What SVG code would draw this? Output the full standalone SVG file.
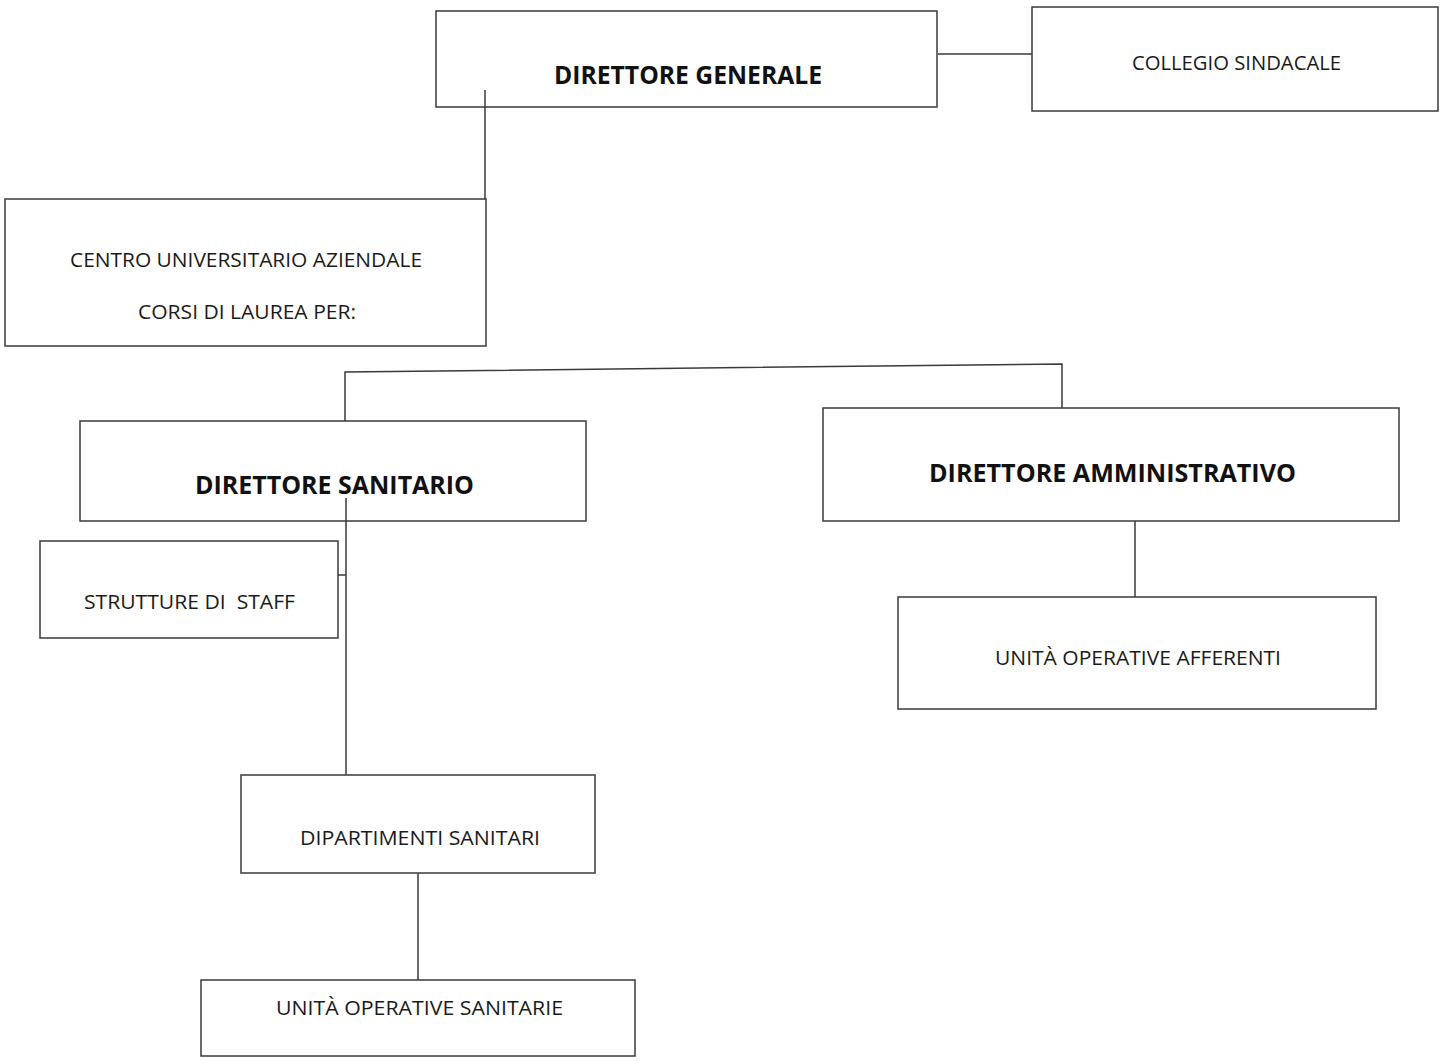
<svg xmlns="http://www.w3.org/2000/svg" width="1440" height="1061" viewBox="0 0 1440 1061">
<style>
.box{fill:#fff;stroke:#3a3a3a;stroke-width:1.5}
.ln{fill:none;stroke:#3a3a3a;stroke-width:1.5}
.t{font-family:"Open Sans","Noto Sans","Liberation Sans",sans-serif;fill:#1a1a1a;font-size:20px}
.b{font-weight:bold;font-size:25px;fill:#111}
</style>
<rect width="1440" height="1061" fill="#fff"/>
<g id="direttore-generale">
<rect class="box" x="436" y="11" width="501" height="96"/>
<text class="t b" x="554" y="84" textLength="268" lengthAdjust="spacingAndGlyphs">DIRETTORE GENERALE</text>
</g>
<g id="collegio-sindacale">
<rect class="box" x="1032" y="7" width="406" height="104"/>
<text class="t" x="1132" y="70" textLength="209" lengthAdjust="spacingAndGlyphs">COLLEGIO SINDACALE</text>
</g>
<g id="centro-universitario">
<rect class="box" x="5" y="199" width="481" height="147"/>
<text class="t" x="70" y="267" textLength="352" lengthAdjust="spacingAndGlyphs">CENTRO UNIVERSITARIO AZIENDALE</text>
<text class="t" x="138" y="319" textLength="218" lengthAdjust="spacingAndGlyphs">CORSI DI LAUREA PER:</text>
</g>
<g id="direttore-sanitario">
<rect class="box" x="80" y="421" width="506" height="100"/>
<text class="t b" x="195" y="494" textLength="279" lengthAdjust="spacingAndGlyphs">DIRETTORE SANITARIO</text>
</g>
<g id="direttore-amministrativo">
<rect class="box" x="823" y="408" width="576" height="113"/>
<text class="t b" x="929" y="482" textLength="367" lengthAdjust="spacingAndGlyphs">DIRETTORE AMMINISTRATIVO</text>
</g>
<g id="strutture-di-staff">
<rect class="box" x="40" y="541" width="298" height="97"/>
<text class="t" x="84" y="609" textLength="211" lengthAdjust="spacingAndGlyphs" xml:space="preserve">STRUTTURE DI  STAFF</text>
</g>
<g id="unita-operative-afferenti">
<rect class="box" x="898" y="597" width="478" height="112"/>
<text class="t" x="995" y="665" textLength="286" lengthAdjust="spacingAndGlyphs">UNITÀ OPERATIVE AFFERENTI</text>
</g>
<g id="dipartimenti-sanitari">
<rect class="box" x="241" y="775" width="354" height="98"/>
<text class="t" x="300" y="845" textLength="240" lengthAdjust="spacingAndGlyphs">DIPARTIMENTI SANITARI</text>
</g>
<g id="unita-operative-sanitarie">
<rect class="box" x="201" y="980" width="434" height="76"/>
<text class="t" x="276" y="1015" textLength="287" lengthAdjust="spacingAndGlyphs">UNITÀ OPERATIVE SANITARIE</text>
</g>
<g id="connectors">
<path class="ln" d="M938 54H1032"/>
<path class="ln" d="M485 90V199"/>
<path class="ln" d="M345 421V372L1062 364V408"/>
<path class="ln" d="M346 498V775"/>
<path class="ln" d="M338 575H346"/>
<path class="ln" d="M1135 521V597"/>
<path class="ln" d="M418 873V980"/>
</g>
</svg>
